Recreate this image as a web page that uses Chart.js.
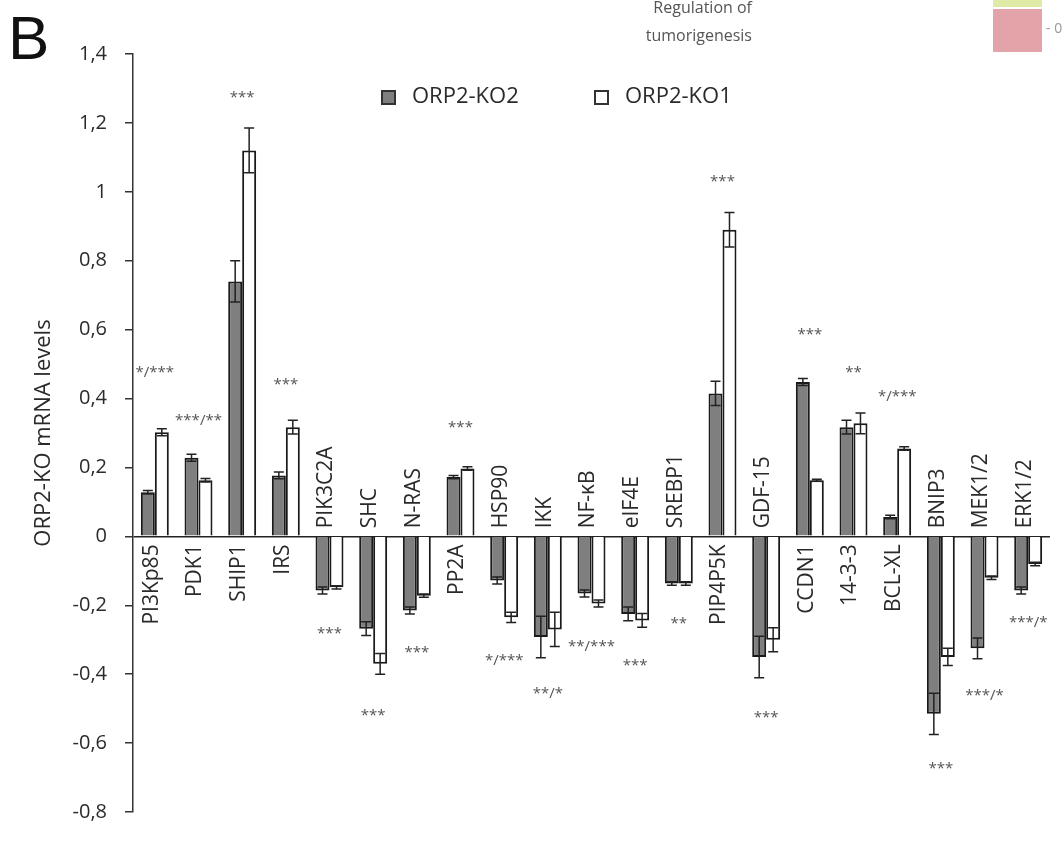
<!DOCTYPE html>
<html lang="en">
<head>
    <meta charset="UTF-8">
    <title>ORP2-KO mRNA levels</title>
    <script src="https://cdn.jsdelivr.net/npm/chart.js"></script>
    <style>
        body { margin: 0; background: #fff; }
        #wrap { position: relative; width: 1064px; height: 843px; overflow: hidden; font-family: "Open Sans", sans-serif; }
        #panel { position: absolute; left: 8px; top: 2px; font: 62px "Liberation Sans", Arial, sans-serif; color: #111; }
        .head { position: absolute; font-size: 16px; color: #555; text-align: right; width: 200px; left: 552px; }
        #swatchTop { position: absolute; left: 993px; top: 0; width: 49px; height: 7px; background: #dfeaa6; }
        #swatch { position: absolute; left: 993px; top: 9px; width: 49px; height: 43px; background: #e2a3a9; }
        #swatchTxt { position: absolute; left: 1046px; top: 18px; font-size: 14px; color: #999; }
    </style>
</head>
<body>
<div id="wrap">
    <canvas id="mrnaChart" width="1064" height="843"></canvas>
    <div id="panel">B</div>
    <div class="head" style="top:-4px">Regulation of</div>
    <div class="head" style="top:24px">tumorigenesis</div>
    <div id="swatchTop"></div>
    <div id="swatch"></div>
    <div id="swatchTxt">- 0</div>
</div>
<script>
    const genes = ['PI3Kp85', 'PDK1', 'SHIP1', 'IRS', 'PIK3C2A', 'SHC', 'N-RAS', 'PP2A', 'HSP90', 'IKK', 'NF-\u03baB',
        'eIF4E', 'SREBP1', 'PIP4P5K', 'GDF-15', 'CCDN1', '14-3-3', 'BCL-XL', 'BNIP3', 'MEK1/2', 'ERK1/2'];
    const ko2 = [0.128, 0.228, 0.74, 0.177, -0.157, -0.268, -0.215, 0.172, -0.128, -0.292, -0.166,
        -0.225, -0.137, 0.415, -0.35, 0.448, 0.317, 0.056, -0.515, -0.325, -0.157];
    const ko1 = [0.302, 0.163, 1.12, 0.317, -0.148, -0.37, -0.172, 0.197, -0.235, -0.27, -0.195,
        -0.244, -0.137, 0.89, -0.30, 0.163, 0.328, 0.255, -0.35, -0.12, -0.08];
    const ko2Err = [0.005, 0.01, 0.06, 0.01, 0.01, 0.02, 0.01, 0.005, 0.01, 0.06, 0.01,
        0.02, 0.005, 0.035, 0.06, 0.01, 0.02, 0.005, 0.06, 0.03, 0.01];
    const ko1Err = [0.01, 0.005, 0.065, 0.02, 0.005, 0.03, 0.005, 0.005, 0.015, 0.05, 0.01,
        0.02, 0.005, 0.05, 0.035, 0.003, 0.03, 0.005, 0.025, 0.005, 0.005];
    const sigText = ['*/***', '***/**', '***', '***', '***', '***', '***', '***', '*/***', '**/*', '**/***',
        '***', '**', '***', '***', '***', '**', '*/***', '***', '***/*', '***/*'];
    const sigLevel = [0.474, 0.337, 1.273, 0.44, -0.282, -0.52, -0.337, 0.314, -0.36, -0.457, -0.32,
        -0.375, -0.253, 1.03, -0.526, 0.584, 0.474, 0.404, -0.674, -0.462, -0.25];
    const yMin = -0.8, yMax = 1.4, yStep = 0.2;

    const extras = {
        id: 'extras',
        afterDatasetsDraw(chart) {
            const { ctx, scales: { x, y } } = chart;
            const zero = y.getPixelForValue(0);

            // error bars
            [ko2Err, ko1Err].forEach((errs, d) => {
                const meta = chart.getDatasetMeta(d);
                const vals = chart.data.datasets[d].data;
                meta.data.forEach((bar, i) => {
                    const top = y.getPixelForValue(vals[i] + errs[i]);
                    const bot = y.getPixelForValue(vals[i] - errs[i]);
                    ctx.save();
                    ctx.strokeStyle = '#222';
                    ctx.lineWidth = 1.5;
                    ctx.beginPath();
                    ctx.moveTo(bar.x, top); ctx.lineTo(bar.x, bot);
                    ctx.moveTo(bar.x - 5, top); ctx.lineTo(bar.x + 5, top);
                    ctx.moveTo(bar.x - 5, bot); ctx.lineTo(bar.x + 5, bot);
                    ctx.stroke();
                    ctx.restore();
                });
            });

            // gene names along the zero line
            genes.forEach((g, i) => {
                const cx = x.getPixelForValue(i);
                ctx.save();
                ctx.translate(cx - 3, zero);
                ctx.rotate(-Math.PI / 2);
                ctx.font = '21px "Open Sans"';
                ctx.fillStyle = '#2a2a2a';
                ctx.textBaseline = 'middle';
                if (ko2[i] >= 0) {
                    ctx.textAlign = 'right';
                    ctx.fillText(g, -8, 0);
                } else {
                    ctx.textAlign = 'left';
                    ctx.fillText(g, 8, 0);
                }
                ctx.restore();
            });

            // significance marks
            ctx.save();
            ctx.font = '15px "Open Sans"';
            ctx.fillStyle = '#555';
            ctx.textAlign = 'center';
            ctx.textBaseline = 'middle';
            sigText.forEach((s, i) => {
                ctx.fillText(s, x.getPixelForValue(i), y.getPixelForValue(sigLevel[i]));
            });
            ctx.restore();
        },
        afterDraw(chart) {
            const { ctx } = chart;
            const left = [382, 595];
            ctx.save();
            chart.data.datasets.forEach((ds, d) => {
                ctx.fillStyle = ds.backgroundColor;
                ctx.strokeStyle = '#333';
                ctx.lineWidth = 2;
                ctx.fillRect(left[d], 91, 13, 13);
                ctx.strokeRect(left[d], 91, 13, 13);
                ctx.fillStyle = '#2a2a2a';
                ctx.font = '22px "Open Sans"';
                ctx.textBaseline = 'middle';
                ctx.fillText(ds.label, left[d] + 30, 97);
            });
            ctx.restore();
        }
    };

    new Chart(document.getElementById('mrnaChart').getContext('2d'), {
        type: 'bar',
        data: {
            labels: genes,
            datasets: [{
                label: 'ORP2-KO2',
                data: ko2,
                backgroundColor: '#7f7f7f',
                borderColor: '#1a1a1a',
                borderWidth: 2
            }, {
                label: 'ORP2-KO1',
                data: ko1,
                backgroundColor: '#ffffff',
                borderColor: '#1a1a1a',
                borderWidth: 2
            }]
        },
        options: {
            responsive: false,
            animation: false,
            layout: { padding: { top: 54, right: 14, bottom: 31, left: 0 } },
            plugins: {
                legend: { display: false },
                tooltip: { enabled: false }
            },
            datasets: {
                bar: { categoryPercentage: 0.64, barPercentage: 1.0 }
            },
            scales: {
                x: { display: false },
                y: {
                    min: yMin,
                    max: yMax,
                    afterFit(scale) { scale.width = 133; },
                    ticks: {
                        stepSize: yStep,
                        padding: 18,
                        color: '#2a2a2a',
                        font: { family: 'Open Sans', size: 20 },
                        callback: v => Number(v.toFixed(1)).toString().replace('.', ',')
                    },
                    grid: {
                        color: c => (c.tick && c.tick.value === 0) ? '#222' : 'rgba(0,0,0,0)',
                        tickColor: '#333',
                        tickLength: 8,
                        lineWidth: 1.5
                    },
                    border: { color: '#333', width: 1.5 },
                    title: {
                        display: true,
                        text: 'ORP2-KO mRNA levels',
                        color: '#2a2a2a',
                        font: { family: 'Open Sans', size: 22 },
                        padding: { top: 31, bottom: 0 }
                    }
                }
            }
        },
        plugins: [extras]
    });
</script>
</body>
</html>
